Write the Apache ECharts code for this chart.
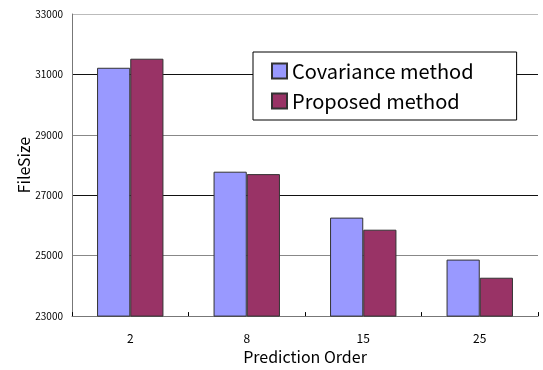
<!DOCTYPE html>
<html>
<head>
<meta charset="utf-8">
<script src="https://cdn.jsdelivr.net/npm/echarts@6/dist/echarts.min.js"></script>
<style>
  html, body { margin: 0; padding: 0; background: #fff; }
  #chart { width: 543px; height: 370px; }
</style>
</head>
<body>
<div id="chart"></div>
<script>
  var orders = ['2', '8', '15', '25'];
  var covariance = [31220, 27780, 26260, 24870];
  var proposed = [31520, 27700, 25860, 24270];
  var yTicks = [23000, 33000, 2000];

  var font = '"Noto Sans CJK JP", "DejaVu Sans", sans-serif';

  var chart = echarts.init(document.getElementById('chart'));

  var option = {
    animation: false,
    textStyle: { fontFamily: font },
    grid: { left: 72, right: 5, top: 14, bottom: 52 },
    legend: {
      orient: 'vertical',
      left: 253,
      top: 52,
      padding: [9, 43, 9, 18],
      itemGap: 10,
      itemWidth: 15,
      itemHeight: 15,
      backgroundColor: '#fff',
      borderColor: '#000',
      borderWidth: 1,
      borderRadius: 0,
      textStyle: { fontSize: 20, color: '#000', lineHeight: 20, fontFamily: font },
      data: [
        { name: 'Covariance method', icon: 'rect' },
        { name: 'Proposed method', icon: 'rect' }
      ]
    },
    xAxis: {
      type: 'category',
      data: orders,
      name: 'Prediction Order',
      nameLocation: 'middle',
      nameGap: 31,
      nameTextStyle: { fontSize: 16, color: '#000', fontFamily: font },
      axisLine: { lineStyle: { color: '#777', width: 1 } },
      axisTick: { show: true, inside: true, length: 4, lineStyle: { color: '#000' } },
      axisLabel: { fontSize: 12, color: '#000', margin: 16, fontFamily: font }
    },
    yAxis: {
      type: 'value',
      min: yTicks[0],
      max: yTicks[1],
      interval: yTicks[2],
      name: 'FileSize',
      nameLocation: 'middle',
      nameGap: 40,
      nameMoveOverlap: false,
      nameTextStyle: { fontSize: 16, color: '#000', fontFamily: font },
      axisLine: { show: true, lineStyle: { color: '#777' } },
      axisTick: { show: false },
      axisLabel: {
        fontSize: 10, color: '#000', margin: 9, fontFamily: font,
        formatter: function (v) { return String(v); }
      },
      splitLine: {
        lineStyle: { color: ['#888', '#888', '#111', '#888', '#111', '#bbb'], width: 1 }
      }
    },
    series: [
      {
        name: 'Covariance method',
        type: 'bar',
        data: covariance,
        barGap: '0%',
        barCategoryGap: '43%',
        itemStyle: { color: '#9999ff', borderColor: '#333', borderWidth: 1 }
      },
      {
        name: 'Proposed method',
        type: 'bar',
        data: proposed,
        itemStyle: { color: '#993366', borderColor: '#333', borderWidth: 1 }
      }
    ]
  };

  chart.setOption(option);
</script>
</body>
</html>
